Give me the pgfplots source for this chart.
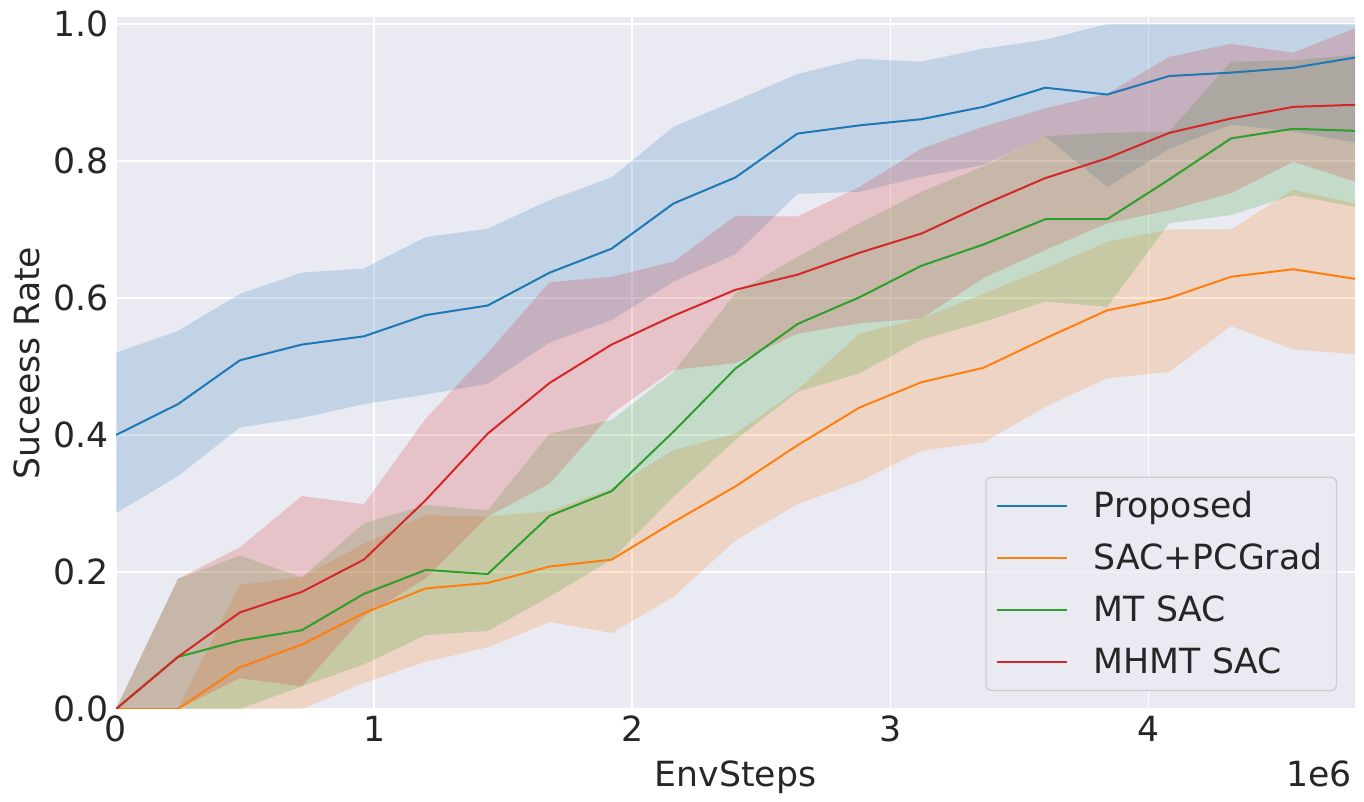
\documentclass[border=0pt]{standalone}
\usepackage{fontspec}
\setmainfont{DejaVu Sans}
\usepackage{pgfplots}
\usepackage{pgfplotstable}
\pgfplotsset{compat=1.18}
\usepgfplotslibrary{fillbetween}

\definecolor{sbbg}{HTML}{EAEAF2}
\definecolor{sbtext}{HTML}{262626}
\definecolor{tabblue}{HTML}{1F77B4}
\definecolor{taborange}{HTML}{FF7F0E}
\definecolor{tabgreen}{HTML}{2CA02C}
\definecolor{tabred}{HTML}{D62728}
\definecolor{legedge}{HTML}{CCCCCC}

% env steps in units of 1e6; mean and band edges
\pgfplotstableread{
x    mean  lo    hi
0.00 0.400 0.286 0.520
0.24 0.445 0.340 0.552
0.48 0.509 0.411 0.606
0.72 0.532 0.425 0.637
0.96 0.544 0.445 0.643
1.20 0.575 0.459 0.689
1.44 0.589 0.475 0.701
1.68 0.637 0.535 0.743
1.92 0.672 0.568 0.776
2.16 0.738 0.624 0.850
2.40 0.776 0.664 0.888
2.64 0.840 0.752 0.927
2.88 0.852 0.755 0.949
3.12 0.861 0.777 0.945
3.36 0.879 0.794 0.964
3.60 0.907 0.836 0.977
3.84 0.897 0.762 1.000
4.08 0.924 0.818 1.000
4.32 0.929 0.853 1.000
4.56 0.936 0.843 1.000
4.80 0.951 0.827 1.000
}\proposed

\pgfplotstableread{
x    mean  lo    hi
0.00 0.000 0.000 0.000
0.24 0.000 0.000 0.000
0.48 0.061 0.000 0.181
0.72 0.094 0.000 0.193
0.96 0.140 0.038 0.241
1.20 0.176 0.069 0.283
1.44 0.184 0.090 0.281
1.68 0.208 0.127 0.289
1.92 0.218 0.111 0.322
2.16 0.273 0.164 0.378
2.40 0.325 0.246 0.402
2.64 0.385 0.299 0.466
2.88 0.440 0.332 0.548
3.12 0.477 0.377 0.570
3.36 0.498 0.389 0.606
3.60 0.541 0.441 0.643
3.84 0.582 0.483 0.682
4.08 0.600 0.492 0.700
4.32 0.631 0.559 0.700
4.56 0.642 0.525 0.758
4.80 0.628 0.518 0.738
}\pcgrad

\pgfplotstableread{
x    mean  lo    hi
0.00 0.000 0.000 0.000
0.24 0.076 0.000 0.190
0.48 0.100 0.000 0.224
0.72 0.115 0.033 0.192
0.96 0.168 0.065 0.271
1.20 0.203 0.108 0.298
1.44 0.197 0.114 0.290
1.68 0.282 0.164 0.402
1.92 0.318 0.218 0.422
2.16 0.405 0.310 0.492
2.40 0.497 0.393 0.607
2.64 0.562 0.463 0.660
2.88 0.601 0.490 0.709
3.12 0.647 0.539 0.755
3.36 0.678 0.565 0.792
3.60 0.715 0.595 0.836
3.84 0.715 0.587 0.841
4.08 0.773 0.709 0.843
4.32 0.833 0.721 0.945
4.56 0.847 0.750 0.947
4.80 0.844 0.733 0.955
}\mtsac

\pgfplotstableread{
x    mean  lo    hi
0.00 0.000 0.000 0.000
0.24 0.076 0.000 0.190
0.48 0.141 0.045 0.236
0.72 0.171 0.033 0.311
0.96 0.218 0.135 0.299
1.20 0.305 0.191 0.424
1.44 0.402 0.281 0.520
1.68 0.476 0.329 0.623
1.92 0.532 0.431 0.631
2.16 0.574 0.495 0.653
2.40 0.612 0.505 0.720
2.64 0.634 0.548 0.719
2.88 0.666 0.563 0.762
3.12 0.694 0.570 0.818
3.36 0.736 0.629 0.850
3.60 0.775 0.670 0.877
3.84 0.804 0.709 0.898
4.08 0.841 0.728 0.952
4.32 0.862 0.753 0.971
4.56 0.879 0.799 0.958
4.80 0.882 0.770 0.994
}\mhmtsac

\newcommand{\sbfont}{\fontsize{17.4}{20}\selectfont}

\begin{document}
\begin{tikzpicture}
\begin{axis}[
  scale only axis,
  width=619.5bp, height=346bp,
  xmin=0, xmax=4.8, ymin=0, ymax=1.0102,
  axis background/.style={fill=sbbg},
  axis line style={draw=none},
  grid=major,
  major grid style={white, line width=0.8bp},
  major tick length=0pt,
  xtick={0,1,2,3,4},
  ytick={0,0.2,0.4,0.6,0.8,1.0},
  yticklabel style={/pgf/number format/.cd, fixed, fixed zerofill, precision=1},
  /pgf/number format/assume math mode=true,
  tick label style={font=\sbfont, text=sbtext},
  label style={font=\sbfont, text=sbtext},
  xlabel={EnvSteps},
  xlabel style={yshift=-2.5bp},
  ylabel={Suceess Rate},
  legend cell align=left,
  legend image code/.code={
    \draw[#1, line width=1bp] (2bp,0bp) -- (37bp,0bp);
  },
  legend style={
    at={(axis description cs:0.9855,0.026)}, anchor=south east,
    fill=sbbg, fill opacity=0.8, text opacity=1, draw opacity=1,
    draw=legedge, line width=0.6bp, rounded corners=2.5bp,
    font=\sbfont, text=sbtext,
    inner xsep=5bp, inner ysep=5bp, row sep=7.5bp,
    nodes={inner sep=2bp},
    /tikz/every odd column/.append style={column sep=11bp},
  },
]
% Proposed
\addplot[tabblue, line width=1bp] table[x=x, y=mean]{\proposed};
\addlegendentry{Proposed}
\addplot[name path=bhi, draw=none, forget plot] table[x=x, y=hi]{\proposed};
\addplot[name path=blo, draw=none, forget plot] table[x=x, y=lo]{\proposed};
\addplot[fill=tabblue, fill opacity=0.2, draw=none, forget plot] fill between[of=bhi and blo];

% SAC+PCGrad
\addplot[taborange, line width=1bp] table[x=x, y=mean]{\pcgrad};
\addlegendentry{SAC+PCGrad}
\addplot[name path=ohi, draw=none, forget plot] table[x=x, y=hi]{\pcgrad};
\addplot[name path=olo, draw=none, forget plot] table[x=x, y=lo]{\pcgrad};
\addplot[fill=taborange, fill opacity=0.2, draw=none, forget plot] fill between[of=ohi and olo];

% MT SAC
\addplot[tabgreen, line width=1bp] table[x=x, y=mean]{\mtsac};
\addlegendentry{MT SAC}
\addplot[name path=ghi, draw=none, forget plot] table[x=x, y=hi]{\mtsac};
\addplot[name path=glo, draw=none, forget plot] table[x=x, y=lo]{\mtsac};
\addplot[fill=tabgreen, fill opacity=0.2, draw=none, forget plot] fill between[of=ghi and glo];

% MHMT SAC
\addplot[tabred, line width=1bp] table[x=x, y=mean]{\mhmtsac};
\addlegendentry{MHMT SAC}
\addplot[name path=rhi, draw=none, forget plot] table[x=x, y=hi]{\mhmtsac};
\addplot[name path=rlo, draw=none, forget plot] table[x=x, y=lo]{\mhmtsac};
\addplot[fill=tabred, fill opacity=0.2, draw=none, forget plot] fill between[of=rhi and rlo];
\end{axis}
% offset text of the x axis, as matplotlib prints it
\node[anchor=north east, inner sep=0pt, font=\sbfont, text=sbtext]
  at ([xshift=-1.5bp, yshift=-25.5bp]current axis.south east) {1e6};
% page = 682 x 401 bp, axis placed as in the reference
\pgfresetboundingbox
\path ([xshift=-58bp, yshift=-46.5bp]current axis.south west)
  rectangle ([xshift=4.5bp, yshift=8.5bp]current axis.north east);
\end{tikzpicture}
\end{document}
